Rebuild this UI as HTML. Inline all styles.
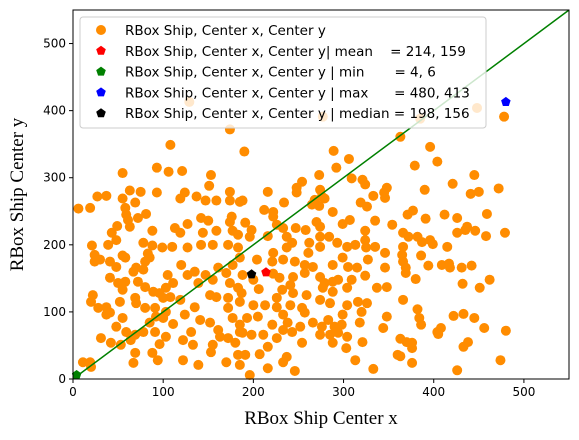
<!DOCTYPE html>
<html><head><meta charset="utf-8"><style>
body{margin:0;background:#fff;}
svg{display:block;font-family:"DejaVu Sans","Liberation Sans",sans-serif;}
</style></head><body>
<svg id="chart" width="579" height="440" xmlns="http://www.w3.org/2000/svg"></svg>
<script>
const xs=[363,396,379,404,445,421,390,441,450,472,377,371,391,412,426,459,366,372,382,387,396,399,426,435,437,446,458,479,415,366,365,386,394,409,417,418,431,442,366,369,369,380,432,451,462,366,382,384,386,422,433,445,456,480,404,408,405,363,370,376,376,433,438,363,376,426,474,478,448,
190,289,306,292,273,254,248,248,216,274,276,268,279,273,265,234,188,212,222,222,288,309,321,324,348,345,346,333,319,326,335,307,299,270,274,247,258,226,233,237,216,191,198,196,354,324,284,274,262,243,237,293,304,313,324,325,335,346,222,274,261,
185,204,221,233,246,257,266,288,299,305,315,327,346,188,200,206,222,229,244,257,274,279,288,294,309,324,304,288,277,259,244,232,226,241,187,185,200,213,226,241,254,274,285,304,316,326,320,337,348,348,344,193,205,221,233,238,252,257,266,276,283,290,298,299,318,188,198,211,226,233,243,254,274,285,294,304,288,303,321,191,207,216,233,237,216,246,196,185,313,333,360,
108,55,93,106,121,153,151,174,27,37,63,75,93,55,69,6,19,58,59,61,72,81,63,49,43,48,88,113,119,127,124,119,137,147,159,174,174,185,142,150,176,174,144,159,177,183,21,39,78,88,99,110,127,142,155,172,183,24,55,83,
24,30,41,48,58,70,67,78,80,85,41,50,55,58,72,80,89,96,103,105,111,120,127,135,139,147,155,161,170,177,174,183,22,20,28,37,41,52,69,70,80,91,92,100,108,103,119,135,124,111,100,85,78,69,59,55,48,37,31,42,53,64,69,91,96,103,88,94,122,131,133,122,139,67,11,19,20,141,152,161,163,155,153,172,180,170,185,152,159,172,172,177,185,183,
129,277,385];
const ys=[361,346,318,324,304,291,282,276,279,284,251,245,239,245,240,246,218,212,212,204,207,201,218,222,227,221,213,218,197,197,185,184,169,170,172,166,166,169,175,166,158,149,142,136,148,118,104,91,81,94,97,91,76,72,70,76,67,60,55,54,46,48,55,34,24,13,28,391,404,
339,340,328,315,304,294,285,278,279,282,272,267,269,258,260,263,266,252,249,242,249,299,297,290,285,278,270,273,263,257,236,237,231,234,227,225,222,230,225,212,213,233,222,212,230,221,212,212,203,203,196,203,197,200,207,196,197,188,188,197,188,
181,178,175,178,175,170,167,170,181,167,166,178,166,155,148,134,157,151,152,158,152,143,145,148,148,154,136,130,136,125,128,133,121,140,128,115,110,110,107,110,106,118,113,110,115,113,100,136,137,93,76,91,93,81,96,84,78,99,84,78,88,78,81,96,84,69,66,66,61,73,70,54,66,66,69,63,54,46,55,36,37,48,25,33,16,12,6,21,28,15,36,
349,307,315,309,310,304,288,372,272,273,281,279,278,269,263,254,255,255,245,237,240,246,227,228,218,207,221,225,218,231,278,269,272,266,266,279,266,264,240,236,242,234,218,221,221,215,199,200,203,199,196,197,196,200,200,200,196,185,184,187,
175,178,175,167,181,166,160,163,175,181,151,143,133,145,145,137,130,128,136,155,143,170,155,160,143,155,148,166,158,170,143,136,125,115,106,107,99,115,121,113,106,106,93,121,122,100,118,107,96,82,91,84,70,66,70,91,78,96,61,54,51,58,39,70,52,63,39,28,58,70,51,28,21,24,25,25,18,88,84,73,63,51,40,61,54,25,70,125,122,121,106,91,81,36,
413,391,388];
const statNames=['mean','min','max','median'];
const statX=[214,4,480,198];
const statY=[159,6,413,156];
const statColors=['#ff0000','#008000','#0000ff','#000000'];
const xTicks=[0,100,200,300,400,500];
const yTicks=[0,100,200,300,400,500];
const legendLabels=['RBox Ship, Center x, Center y','RBox Ship, Center x, Center y| mean    = 214, 159','RBox Ship, Center x, Center y | min       = 4, 6','RBox Ship, Center x, Center y | max      = 480, 413','RBox Ship, Center x, Center y | median = 198, 156'];

const L=73,R=569,T=10,B=379,MAX=550;
const sx=v=>L+v*(R-L)/MAX;
const sy=v=>B-v*(B-T)/MAX;
const svg=document.getElementById('chart');
const NS='http://www.w3.org/2000/svg';
function mk(tag,attrs,parent){const e=document.createElementNS(NS,tag);for(const k in attrs)e.setAttribute(k,attrs[k]);(parent||svg).appendChild(e);return e;}
function pent(cx,cy,r){let p=[];for(let i=0;i<5;i++){const a=-Math.PI/2+i*2*Math.PI/5;p.push((cx+r*Math.cos(a)).toFixed(1)+','+(cy+r*Math.sin(a)).toFixed(1));}return p.join(' ');}

const g=mk('g',{});


for(let i=0;i<xs.length;i++){
  const c=mk('circle',{cx:sx(xs[i]),cy:sy(ys[i]),r:5,fill:'#ff8c00'},g);
  
  
}
const dl=mk('line',{x1:sx(0),y1:sy(0),x2:sx(MAX),y2:sy(MAX),stroke:'#008000','stroke-width':1.5});


for(let i=0;i<statX.length;i++){
  const p=mk('polygon',{points:pent(sx(statX[i]),sy(statY[i]),5),fill:statColors[i]});
  
  
}
const frame=mk('rect',{x:L,y:T,width:R-L,height:B-T,fill:'none',stroke:'#000','stroke-width':1});


for(const t of xTicks){
  const l=mk('line',{x1:sx(t),x2:sx(t),y1:B,y2:B+4,stroke:'#000'});
  
  
  const tx=mk('text',{x:sx(t),y:B+17,'text-anchor':'middle','font-size':12});
  tx.textContent=t;
  
  
}
for(const t of yTicks){
  const l=mk('line',{x1:L-4,x2:L,y1:sy(t),y2:sy(t),stroke:'#000'});
  
  
  const tx=mk('text',{x:L-7,y:sy(t)+4,'text-anchor':'end','font-size':12});
  tx.textContent=t;
  
  
}
const xl=mk('text',{x:(L+R)/2,y:424,'text-anchor':'middle','font-size':19,'font-family':'"Liberation Serif",serif'});
xl.textContent='RBox Ship Center x';


const yl=mk('text',{x:0,y:0,'text-anchor':'middle','font-size':19,'font-family':'"Liberation Serif",serif',transform:'translate(23,'+((T+B)/2)+') rotate(-90)'});
yl.textContent='RBox Ship Center y';



const lg=mk('g',{});


mk('rect',{x:80,y:17,width:406,height:111,rx:3,fill:'#fff','fill-opacity':0.8,stroke:'#ccc'},lg);
for(let i=0;i<legendLabels.length;i++){
  const yy=30+i*20.8;
  if(i===0){mk('circle',{cx:101,cy:yy,r:5,fill:'#ff8c00'},lg);}
  else{mk('polygon',{points:pent(101,yy,5),fill:statColors[i-1]},lg);}
  const t=mk('text',{x:125,y:yy+5,'font-size':13.5,'xml:space':'preserve'},lg);
  t.style.whiteSpace='pre';
  t.textContent=legendLabels[i];
  
  
}
</script>
</body></html>
